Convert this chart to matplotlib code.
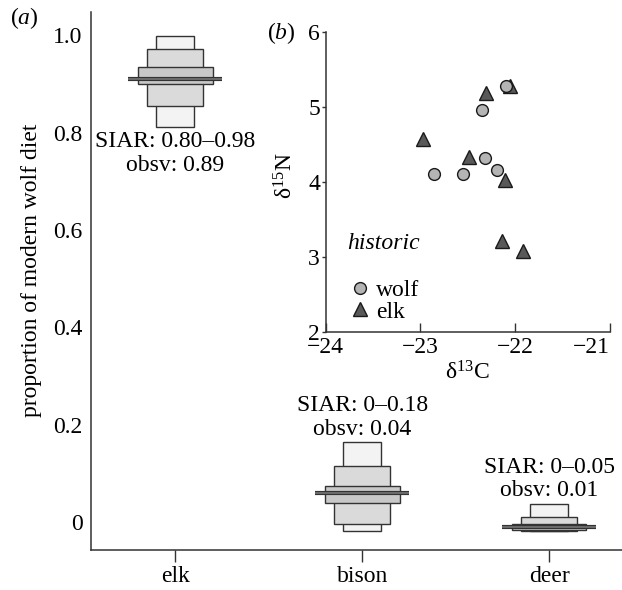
import numpy as np
import matplotlib
matplotlib.use("Agg")
import matplotlib.pyplot as plt
import matplotlib.patheffects as pe

# (a) SIAR credible boxes, modern wolf diet
prey = ["elk", "bison", "deer"]
hdr95_lo = [0.812, -0.018, -0.018]
hdr95_hi = [0.998, 0.164, 0.037]
hdr75_lo = [0.855, -0.004, -0.018]
hdr75_hi = [0.972, 0.116, 0.011]
hdr50_lo = [0.900, 0.040, -0.016]
hdr50_hi = [0.935, 0.074, -0.004]
mode = [0.911, 0.061, -0.010]
siar_range = ["0.80–0.98", "0–0.18", "0–0.05"]
obsv = ["0.89", "0.04", "0.01"]
yticks = [0, 0.2, 0.4, 0.6, 0.8, 1.0]
ytick_labels = ["0", "0.2", "0.4", "0.6", "0.8", "1.0"]

# (b) historic isotope values
wolf_d13c = [-22.10, -22.35, -22.32, -22.86, -22.55, -22.19]
wolf_d15n = [5.28, 4.96, 4.32, 4.10, 4.10, 4.15]
elk_d13c = [-22.05, -22.31, -22.97, -22.49, -22.11, -22.14, -21.92]
elk_d15n = [5.28, 5.18, 4.57, 4.33, 4.02, 3.21, 3.07]

plt.rcParams["font.family"] = ["Liberation Serif", "DejaVu Serif"]
plt.rcParams["font.size"] = 17
plt.rcParams["mathtext.fontset"] = "custom"
plt.rcParams["mathtext.rm"] = "Liberation Serif"
plt.rcParams["mathtext.it"] = "Liberation Serif:italic"

EDGE = "#333333"
fig = plt.figure(figsize=(6.22, 5.90), dpi=100)

# ---- panel (a)
ax = fig.add_axes([91 / 622, 1 - 550 / 590, 531 / 622, 538 / 590])
x = np.arange(1, len(prey) + 1)
lo95, hi95 = np.array(hdr95_lo), np.array(hdr95_hi)
lo75, hi75 = np.array(hdr75_lo), np.array(hdr75_hi)
lo50, hi50 = np.array(hdr50_lo), np.array(hdr50_hi)
kw = dict(edgecolor=EDGE, linewidth=1.0)
ax.bar(x, hi95 - lo95, bottom=lo95, width=0.2, color="#f3f3f3", **kw)
ax.bar(x, hi75 - lo75, bottom=lo75, width=0.3, color="#dadada", **kw)
ax.bar(x, hi50 - lo50, bottom=lo50, width=0.4, color="#c8c8c8", **kw)
ax.hlines(mode, x - 0.25, x + 0.25, color="#707070", lw=1.3,
          path_effects=[pe.Stroke(linewidth=3.0, foreground=EDGE), pe.Normal()])

for i in range(len(prey)):
    txt = f"SIAR: {siar_range[i]}\nobsv: {obsv[i]}"
    if i == 0:
        ax.annotate(txt, (x[i], lo95[i]), xytext=(0, -3),
                    textcoords="offset points", ha="center", va="top",
                    linespacing=1.18)
    else:
        ax.annotate(txt, (x[i], hi95[i]), xytext=(0, 2),
                    textcoords="offset points", ha="center", va="bottom",
                    linespacing=1.18)

ax.set_xlim(0.55, 3.39)
ax.set_ylim(-0.057, 1.048)
ax.set_xticks(x)
ax.set_xticklabels(prey)
ax.set_yticks(yticks)
ax.set_yticklabels(ytick_labels)
ax.tick_params(axis="x", length=8.5, width=1.0, color=EDGE, pad=3)
ax.tick_params(axis="y", length=0, pad=6)
for s in ["top", "right"]:
    ax.spines[s].set_visible(False)
for s in ["left", "bottom"]:
    ax.spines[s].set_linewidth(1.1)
    ax.spines[s].set_color(EDGE)
ax.set_ylabel("proportion of modern wolf diet")
ax.yaxis.set_label_coords(-0.093, 0.52)
fig.text(24 / 622, 1 - 18 / 590, "($a$)", ha="center", va="center")

# ---- panel (b)
bx = fig.add_axes([325.5 / 622, 1 - 331.7 / 590, 284.5 / 622, 300 / 590])
bx.patch.set_alpha(0)
bx.plot(elk_d13c, elk_d15n, "^", ms=9.5, mfc="#595959", mec="#1a1a1a",
        mew=1.0, ls="none", label="elk")
bx.plot(wolf_d13c, wolf_d15n, "o", ms=8.5, mfc="#b4b4b4", mec="#1a1a1a",
        mew=1.0, ls="none", label="wolf")
bx.set_xlim(-24, -21)
bx.set_ylim(2, 6)
bx.set_xticks([-24, -23, -22, -21])
bx.set_yticks([2, 3, 4, 5, 6])
bx.tick_params(axis="x", direction="in", length=6.5, width=1.0, color=EDGE, pad=4)
bx.tick_params(axis="y", direction="out", length=3, width=1.0, color=EDGE, pad=1)
bx.get_xticklabels()[-1].set_ha("right")
for s in ["top", "right"]:
    bx.spines[s].set_visible(False)
for s in ["left", "bottom"]:
    bx.spines[s].set_linewidth(1.1)
    bx.spines[s].set_color(EDGE)
bx.set_xlabel(r"δ$^{13}$C")
bx.xaxis.set_label_coords(0.5, -0.1)
bx.set_ylabel(r"δ$^{15}$N")
bx.yaxis.set_label_coords(-0.10, 0.52)

bx.text(-23.774, 3.18, "historic", style="italic", ha="left", va="center")
h, l = bx.get_legend_handles_labels()
bx.legend(h[::-1], l[::-1], loc="lower left", bbox_to_anchor=(0.088, 0.03),
          frameon=False, borderpad=0, borderaxespad=0, handlelength=0.8,
          handletextpad=0.28, labelspacing=0.0)
fig.text(281 / 622, 1 - 33 / 590, "($b$)", ha="center", va="center")

fig.savefig("out.png", dpi=100)
